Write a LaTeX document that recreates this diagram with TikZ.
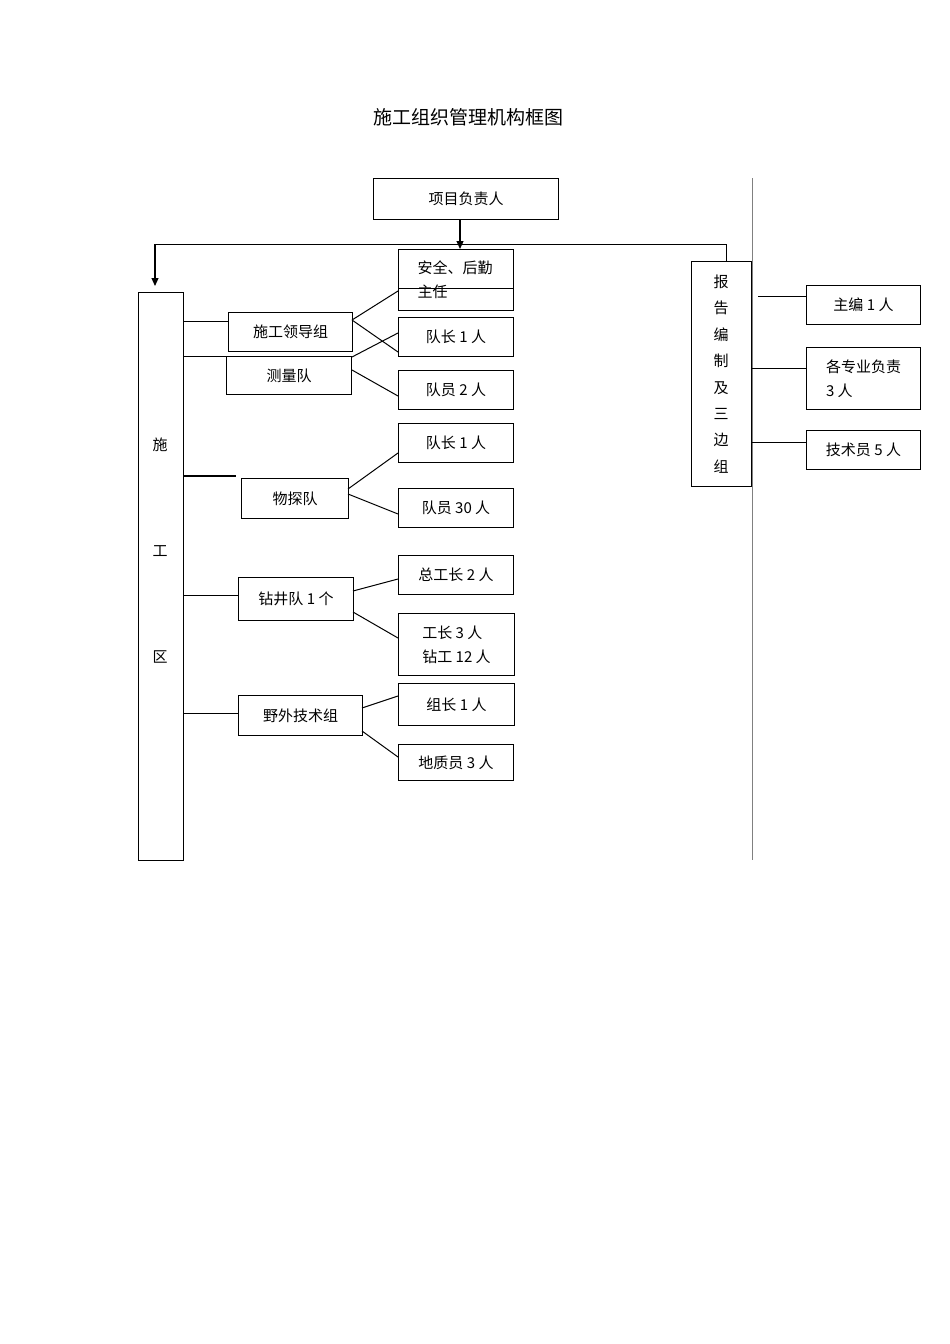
\documentclass[tikz,border=0pt]{standalone}
\usepackage{fontspec}
\setmainfont{Liberation Serif}
\newfontfamily\cjk{Noto Sans CJK SC}
\usetikzlibrary{arrows.meta}
\begin{document}
\begin{tikzpicture}[x=1pt,y=-1pt,
  bx/.style={draw,line width=1pt,inner sep=0pt,anchor=north west},
  tx/.style={font=\cjk\fontsize{15}{24}\selectfont,align=left},
  ln/.style={line width=1pt},
  ar/.style={line width=1.2pt,-{Triangle[length=8pt,width=7pt]}}]
\useasboundingbox[fill=white] (0,0) rectangle (950,1344);
\node[font=\cjk\fontsize{19}{22}\selectfont] (title) at (468,117) {施工组织管理机构框图};
\newcommand{\bbox}[6]{\node[bx,minimum width=#4-#2,minimum height=#5-#3] (#1) at (#2,#3) {};\node[tx] at (#1.center) {#6};}
\bbox{pm}{373}{178}{558}{219}{项目负责人}
\node[bx,minimum width=45,minimum height=568] (sg) at (138,292) {};
\node[tx] at (160,445) {施};\node[tx] at (160,551) {工};\node[tx] at (160,657) {区};
\node[bx,minimum width=60,minimum height=225] (bg) at (691,261) {};
\node[tx,align=center,font=\cjk\fontsize{15}{26.4}\selectfont] at (721,374) {报\\告\\编\\制\\及\\三\\边\\组};
\bbox{ld}{228}{312}{352}{351}{施工领导组}
\bbox{cl}{226}{356}{351}{394}{测量队}
\node[bx,minimum width=115,minimum height=61] (aq) at (398,249) {};
\node[tx] at (455,280) {安全、后勤\\主任};
\draw[ln] (398,288) -- (513,288);
\bbox{d1}{398}{317}{513}{356}{队长 1 人}
\bbox{d2}{398}{370}{513}{409}{队员 2 人}
\bbox{wt}{241}{478}{348}{518}{物探队}
\bbox{w1}{398}{423}{513}{462}{队长 1 人}
\bbox{w2}{398}{488}{513}{527}{队员 30 人}
\bbox{zj}{238}{577}{353}{620}{钻井队 1 个}
\bbox{z1}{398}{555}{513}{594}{总工长 2 人}
\bbox{z2}{398}{613}{514}{675}{工长 3 人\\钻工 12 人}
\bbox{yw}{238}{695}{362}{735}{野外技术组}
\bbox{y1}{398}{683}{514}{725}{组长 1 人}
\bbox{y2}{398}{744}{513}{780}{地质员 3 人}
\bbox{r1}{806}{285}{920}{324}{主编 1 人}
\bbox{r2}{806}{347}{920}{409}{各专业负责\\3 人}
\bbox{r3}{806}{430}{920}{469}{技术员 5 人}
% top connectors
\draw[ar] (pm.south -| 460,0) -- (460,249);
\draw[ln] (155,244) -- (726,244) -- (726,261);
\draw[ar] (155,244) -- (155,286);
\draw[line width=1pt,gray] (752,178) -- (752,860);
% left branches
\draw[ln] (183,321) -- (ld.west |- 0,321);
\draw[ln] (183,356) -- (226,356);
\draw[line width=1.5pt] (183,476) -- (236,476);
\draw[ln] (183,595) -- (zj.west |- 0,595);
\draw[ln] (183,713) -- (yw.west |- 0,713);
\draw[ln] (352,320) -- (398,291);
\draw[ln] (352,320) -- (398,352);
\draw[ln] (352,357) -- (398,333);
\draw[ln] (352,370) -- (398,396);
\draw[ln] (348,489) -- (398,453);
\draw[ln] (348,494) -- (398,514);
\draw[ln] (353,591) -- (398,579);
\draw[ln] (353,612) -- (398,638);
\draw[ln] (362,708) -- (398,696);
\draw[ln] (362,731) -- (398,757);
% right branches
\draw[ln] (758,296) -- (r1.west |- 0,296);
\draw[ln] (751,368) -- (r2.west |- 0,368);
\draw[ln] (751,442) -- (r3.west |- 0,442);
\end{tikzpicture}
\end{document}
